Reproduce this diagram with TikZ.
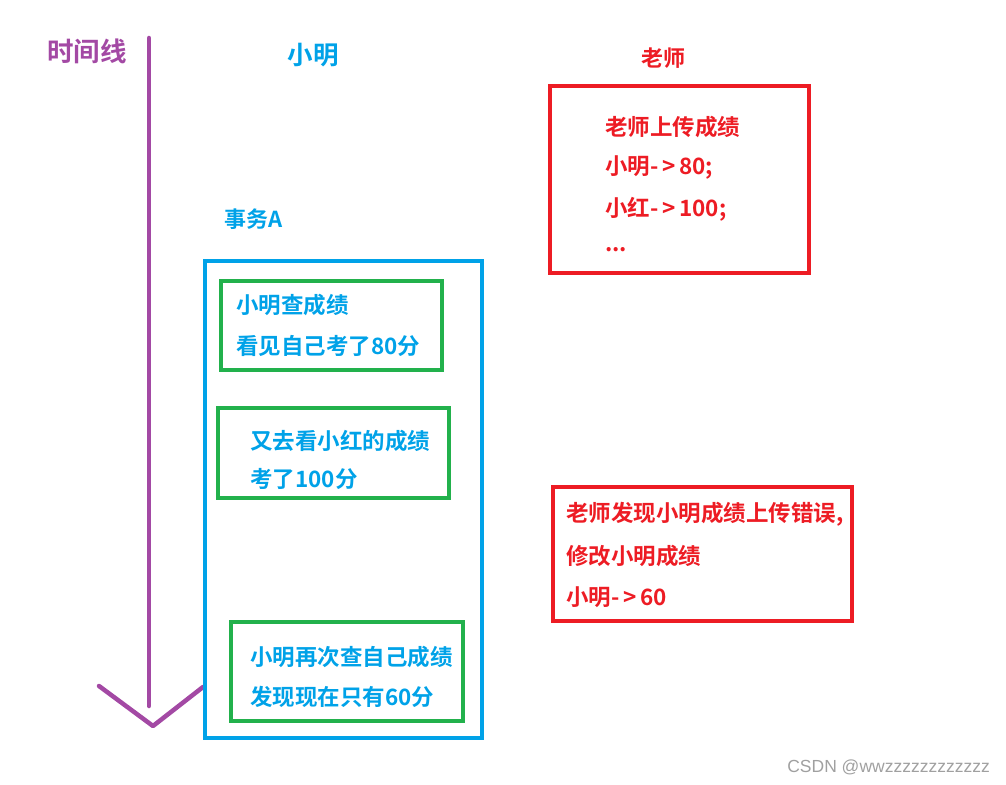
\documentclass[tikz,border=0pt]{standalone}
\usepackage{fontspec}
\newfontfamily\cjk{Noto Sans CJK SC Bold}
\newfontfamily\wm{Liberation Sans}
\definecolor{tlpurple}{HTML}{A349A4}
\definecolor{cblue}{HTML}{00A2E8}
\definecolor{cred}{HTML}{ED1C24}
\definecolor{cgreen}{HTML}{22B14C}
\definecolor{wmgray}{HTML}{A0A0A0}
\begin{document}
\begin{tikzpicture}[x=1pt,y=-1pt,
  txt/.style={anchor=west,inner sep=0pt,font=\cjk\fontsize{22.5}{26}\selectfont},
  bluetxt/.style={txt,text=cblue},
  redtxt/.style={txt,text=cred},
  bluebox/.style={draw=cblue,line width=4pt},
  greenbox/.style={draw=cgreen,line width=3.5pt},
  redbox/.style={draw=cred,line width=4pt},
  timeline/.style={draw=tlpurple,line width=4.5pt,line cap=round}]
\useasboundingbox (0,0) rectangle (1006,784);
% timeline
\coordinate (tltop) at (149,38);
\coordinate (tlbot) at (149,706);
\coordinate (vl) at (99,686);
\coordinate (vt) at (153,726);
\coordinate (vr) at (203,687);
\draw[timeline] (tltop) -- (tlbot);
\draw[timeline,line join=round] (vl) -- (vt) -- (vr);
\node[txt,anchor=center,text=tlpurple,font=\cjk\fontsize{26.5}{30}\selectfont] (tl) at (87,51) {时间线};
% headers
\node[bluetxt,anchor=center,font=\cjk\fontsize{25.5}{30}\selectfont] (xm) at (313,55) {小明};
\node[redtxt,anchor=center,font=\cjk\fontsize{22}{26}\selectfont] (ls) at (663,58) {老师};
\node[bluetxt,font=\cjk\fontsize{22}{26}\selectfont] (swa) at (224,219) {事务A};
% transaction box
\draw[bluebox] (205,261) rectangle (482,738);
% green boxes
\draw[greenbox] (221,281) rectangle (442,370);
\node[bluetxt] (g1a) at (236,305) {小明查成绩};
\node[bluetxt] (g1b) at (236,346) {看见自己考了80分};
\draw[greenbox] (218,408) rectangle (449,498);
\node[bluetxt] (g2a) at (250,441) {又去看小红的成绩};
\node[bluetxt] (g2b) at (250,479) {考了100分};
\draw[greenbox] (231,622) rectangle (463,721);
\node[bluetxt] (g3a) at (250,657) {小明再次查自己成绩};
\node[bluetxt] (g3b) at (250,697) {发现现在只有60分};
% red boxes
\draw[redbox] (550,86) rectangle (809,273);
\node[redtxt] (r1a) at (605,127) {老师上传成绩};
\node[redtxt] (r1b) at (605,168) {小明-\,>\,80;};
\node[redtxt] (r1c) at (605,209) {小红-\,>\,100;};
\node[redtxt] (r1d) at (605,250) {...};
\draw[redbox] (553,487) rectangle (852,621);
\node[redtxt] (r2a) at (566,514) {老师发现小明成绩上传错误,};
\node[redtxt] (r2b) at (566,556) {修改小明成绩};
\node[redtxt] (r2c) at (566,597) {小明-\,>\,60};
% watermark
\node[anchor=east,inner sep=0pt,text=wmgray,font=\wm\fontsize{17.5}{20}\selectfont] (wm) at (990,767) {CSDN @wwzzzzzzzzzzzz};
\end{tikzpicture}
\end{document}
